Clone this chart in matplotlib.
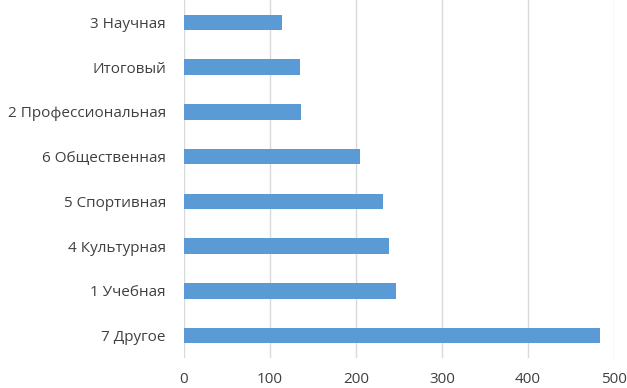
import matplotlib.pyplot as plt

categories = ["7 Другое", "1 Учебная", "4 Культурная", "5 Спортивная",
              "6 Общественная", "2 Профессиональная", "Итоговый", "3 Научная"]
values = [484, 247, 238, 231, 205, 136, 135, 114]
xticks = [0, 100, 200, 300, 400, 500]

plt.rcParams['font.family'] = ['Open Sans', 'DejaVu Sans']

fig = plt.figure(figsize=(6.27, 3.88), dpi=100)
ax = fig.add_axes([184 / 627, 30 / 388, 430 / 627, 358 / 388])

ax.barh(categories, values, height=0.35, color="#5B9BD5", zorder=3)

ax.set_xlim(0, 500)
ax.set_ylim(-0.5, len(categories) - 0.5)
ax.set_xticks(xticks)
ax.grid(axis="x", color="#D9D9D9", linewidth=1, zorder=0)
for s in ax.spines.values():
    s.set_visible(False)
ax.tick_params(axis="both", length=0, labelsize=11, colors="#404040")
ax.tick_params(axis="x", pad=10)
ax.tick_params(axis="y", pad=13)
for lbl in ax.get_xticklabels() + ax.get_yticklabels():
    lbl.set_clip_on(False)

fig.savefig("out.png", dpi=100)
